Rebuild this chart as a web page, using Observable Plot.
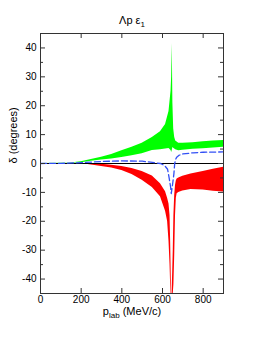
<!DOCTYPE html>
<html><head><meta charset="utf-8">
<script src="https://cdn.jsdelivr.net/npm/d3@7"></script>
<script src="https://cdn.jsdelivr.net/npm/@observablehq/plot@0.6"></script>
<style>body{margin:0;background:#fff} svg{display:block}</style>
</head><body><div id="chart"></div>
<script>
const titleText = "Λp ε1";
const xLabelText = "plab (MeV/c)";
const yLabelText = "δ (degrees)";

const pGreen   = [0, 100, 150, 200, 250, 300, 350, 400, 450, 500, 550, 590, 615, 632, 642, 645, 648, 651, 655, 660, 665, 680, 700, 750, 800, 850, 900];
const greenLow = [0, 0, 0.05, 0.3, 0.8, 1.2, 1.6, 2.1, 2.7, 3.4, 4.5, 4.8, 5.0, 5.2, 4.5, 3.8, 4.5, 5.5, 5.3, 5.0, 4.8, 4.4, 4.6, 4.9, 5.1, 5.4, 5.6];
const greenHigh= [0, 0.05, 0.2, 0.6, 1.4, 2.2, 3.1, 4.4, 5.6, 7.0, 9.0, 11.0, 13.5, 18.0, 25.0, 30.0, 41.5, 21.0, 12.0, 9.0, 7.8, 7.0, 7.0, 7.2, 7.5, 7.8, 8.0];

const pRed    = [0, 200, 250, 300, 350, 400, 450, 500, 550, 590, 615, 625, 632, 637, 640, 642, 644, 647, 650, 653, 656, 660, 664, 668, 672, 680, 700, 740, 800, 850, 900];
const redHigh = [0, 0, -0.1, -0.3, -0.6, -1.0, -1.7, -2.8, -4.3, -7.0, -9.8, -12.0, -14.0, -18.0, -27.0, -35.0, -45, -45, -38, -30, -18, -11, -7.5, -6.0, -5.4, -5.0, -4.4, -3.6, -2.8, -2.0, -1.3];
const redLow  = [0, 0, -0.5, -1.0, -1.6, -2.4, -3.8, -5.8, -8.3, -11.5, -16.5, -20.0, -27.0, -35.0, -42.0, -45, -45, -45, -45, -45, -42, -32, -18, -12.0, -10.5, -10.0, -9.5, -9.0, -9.2, -9.6, -9.9];

const pBlue     = [0, 100, 200, 300, 400, 500, 550, 590, 610, 625, 632, 640, 643, 646, 650, 656, 660, 665, 670, 680, 700, 750, 800, 900];
const blueDelta = [0, 0.05, 0.3, 0.7, 0.9, 0.8, 0.4, 0, -0.7, -2.0, -4.7, -8.2, -10.4, -9.0, -7.0, -3.6, 0, 1.5, 2.2, 2.8, 3.3, 3.7, 3.9, 4.0];

const xTicks = [0, 200, 400, 600, 800];
const yTicks = [-40, -30, -20, -10, 0, 10, 20, 30, 40];
const yMinor = [-35, -25, -15, -5, 5, 15, 25, 35];

const green = pGreen.map((p, i) => ({p, lo: greenLow[i], hi: greenHigh[i]}));
const red = pRed.map((p, i) => ({p, lo: redLow[i], hi: redHigh[i]}));
const blue = pBlue.map((p, i) => ({p, d: blueDelta[i]}));

const W = 270, H = 349, mL = 40, mR = 47, mT = 33, mB = 56;
const fw = W - mL - mR, fh = H - mT - mB;
const axisColor = "#333";

const chart = Plot.plot({
  width: W, height: H,
  marginLeft: mL, marginRight: mR, marginTop: mT, marginBottom: mB,
  x: {domain: [0, 900]},
  y: {domain: [-45, 45]},
  style: {fontFamily: "'Liberation Sans', Arial, sans-serif", fontSize: "10px", color: "#000", background: "#fff"},
  marks: [
    Plot.areaY(green, {x: "p", y1: "lo", y2: "hi", fill: "#00ff00", clip: true}),
    Plot.areaY(red, {x: "p", y1: "lo", y2: "hi", fill: "#ff0000", clip: true}),
    Plot.ruleY([0], {stroke: "#000", strokeWidth: 1}),
    Plot.line(blue, {x: "p", y: "d", stroke: "#3350f5", strokeWidth: 1.3, strokeDasharray: "6,3", clip: true}),
    Plot.frame({stroke: axisColor}),
    Plot.ruleY(yTicks, {insetRight: fw - 5, stroke: axisColor}),
    Plot.ruleY(yTicks, {insetLeft: fw - 5, stroke: axisColor}),
    Plot.ruleY(yMinor, {insetRight: fw - 3, stroke: axisColor}),
    Plot.ruleY(yMinor, {insetLeft: fw - 3, stroke: axisColor}),
    Plot.ruleX(xTicks, {insetTop: fh - 5, stroke: axisColor}),
    Plot.ruleX(xTicks, {insetBottom: fh - 5, stroke: axisColor}),
    Plot.axisX(xTicks, {tickSize: 0, tickPadding: 2, label: null, tickFormat: d => String(d), fontSize: 10}),
    Plot.axisY(yTicks, {tickSize: 0, tickPadding: 4, label: null, tickFormat: d => String(d), fontSize: 10}),
    Plot.text([titleText], {frameAnchor: "top", dy: -17, fontSize: 11}),
    Plot.text([xLabelText], {frameAnchor: "bottom", dy: 21, fontSize: 11}),
    Plot.text([yLabelText], {frameAnchor: "left", dx: -27, rotate: -90, fontSize: 11})
  ]
});

d3.select(chart).selectAll("text").each(function() {
  const t = this.textContent;
  if (t === titleText) {
    d3.select(this).text(null);
    const s = d3.select(this);
    s.append("tspan").text("Λp ε");
    s.append("tspan").attr("font-size", 8).attr("dy", 3).text("1");
  } else if (t === xLabelText) {
    const s = d3.select(this);
    s.text(null);
    s.append("tspan").text("p");
    s.append("tspan").attr("font-size", 8).attr("dy", 3).text("lab");
    s.append("tspan").attr("dy", -3).text(" (MeV/c)");
  }
});

document.getElementById("chart").appendChild(chart);
</script>
</body></html>
